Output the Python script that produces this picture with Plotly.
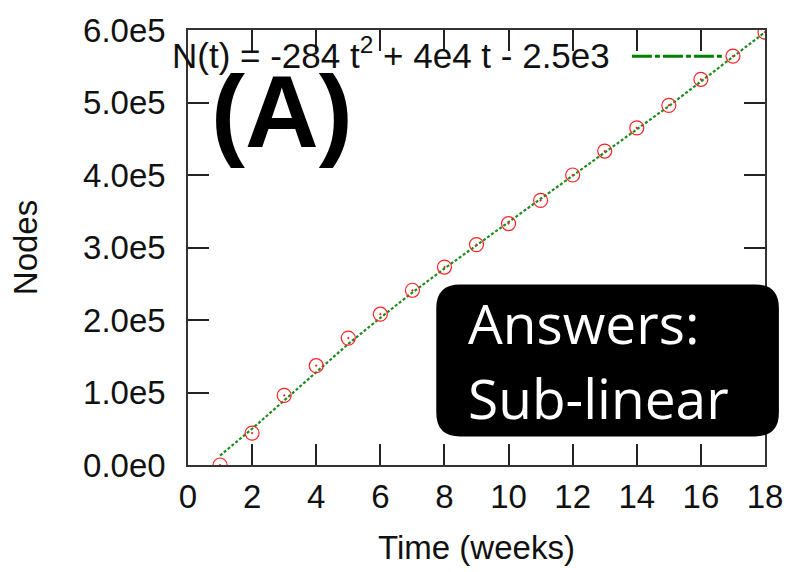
import plotly.graph_objects as go

# ---- data ----
weeks = [1, 2, 3, 4, 5, 6, 7, 8, 9, 10, 11, 12, 13, 14, 15, 16, 17, 18]
nodes = [0, 44000, 96000, 137000, 175000, 208000, 241000, 273000, 304000,
         333000, 365000, 400000, 433000, 465000, 496000, 532000, 564000, 597000]
fit_nodes = [13000, 50000, 89000, 128000, 167000, 203000, 238000, 271000, 303000,
             335000, 367000, 399000, 431000, 463000, 495000, 529000, 563000, 597000]
fit_label = "N(t) = -284 t<sup>2</sup> + 4e4 t - 2.5e3"
x_ticks = [0, 2, 4, 6, 8, 10, 12, 14, 16, 18]
y_ticks = [0, 100000, 200000, 300000, 400000, 500000, 600000]
y_ticktext = ["0.0e0", "1.0e5", "2.0e5", "3.0e5", "4.0e5", "5.0e5", "6.0e5"]
panel_label = "(A)"
answer_lines = ["Answers:", "Sub-linear"]

W, H = 795, 572
L, R, T, B = 188, 26, 25, 106
PW, PH = W - L - R, H - T - B
FONT = "Liberation Sans, Arial"
FS = 33


def px(xp):
    return (xp - L) / PW


def py(yp):
    return (H - B - yp) / PH


fig = go.Figure()
fig.add_trace(go.Scatter(
    x=weeks, y=fit_nodes, mode="lines",
    line=dict(color="#1f8a1f", width=2.2, dash="3px,2px"),
    showlegend=False, hoverinfo="skip"))
fig.add_trace(go.Scatter(
    x=weeks, y=nodes, mode="markers",
    marker=dict(symbol="circle-open-dot", size=14, color="#ff2020",
                line=dict(width=1.2, color="#ff2020")),
    showlegend=False))

axis_common = dict(
    showgrid=False, zeroline=False, showline=True, mirror="allticks",
    linecolor="#333333", linewidth=1.5, ticks="inside", ticklen=21,
    tickwidth=1.5, tickcolor="#222222",
    tickfont=dict(family=FONT, size=FS, color="#111111"),
)
fig.update_xaxes(range=[0, 18], tickmode="array", tickvals=x_ticks,
                 title=dict(text="Time (weeks)",
                            font=dict(family=FONT, size=FS, color="#111111"),
                            standoff=22),
                 ticklabelstandoff=2, **axis_common)
fig.update_yaxes(range=[0, 600000], tickmode="array", tickvals=y_ticks,
                 ticktext=y_ticktext,
                 title=dict(text="Nodes",
                            font=dict(family=FONT, size=FS, color="#111111"),
                            standoff=36),
                 ticklabelstandoff=14, **axis_common)

# legend (manual, as in original key)
fig.add_annotation(xref="paper", yref="paper", x=px(615), y=py(48),
                   xanchor="right", yanchor="middle", showarrow=False,
                   text=fit_label,
                   font=dict(family=FONT, size=35, color="#111111"))
fig.add_shape(type="line", xref="paper", yref="paper",
              x0=px(635), x1=px(728), y0=py(51.5), y1=py(51.5),
              line=dict(color="green", width=3, dash="20px,3px,5px,3px"))

# panel label
fig.add_annotation(xref="paper", yref="paper", x=px(283), y=py(108),
                   xanchor="center", yanchor="middle", showarrow=False,
                   text="<b>" + panel_label + "</b>",
                   font=dict(family=FONT, size=102, color="black"))

# rounded black box
x0, x1, y0, y1, r = 438, 783, 283, 437, 24
rx, ry = r / PW, r / PH
X0, X1, Y0, Y1 = px(x0), px(x1), py(y1), py(y0)
path = (f"M {X0+rx},{Y0} L {X1-rx},{Y0} Q {X1},{Y0} {X1},{Y0+ry} "
        f"L {X1},{Y1-ry} Q {X1},{Y1} {X1-rx},{Y1} "
        f"L {X0+rx},{Y1} Q {X0},{Y1} {X0},{Y1-ry} "
        f"L {X0},{Y0+ry} Q {X0},{Y0} {X0+rx},{Y0} Z")
fig.add_shape(type="path", xref="paper", yref="paper", path=path,
              fillcolor="black", line=dict(color="black", width=0), layer="above")

for line_text, base in zip(answer_lines, [342, 418]):
    fig.add_annotation(xref="paper", yref="paper", x=px(468), y=py(base - 20),
                       xanchor="left", yanchor="middle", showarrow=False,
                       text=line_text,
                       font=dict(family="Open Sans", size=55, color="white"))

fig.update_layout(width=W, height=H, margin=dict(l=L, r=R, t=T, b=B),
                  paper_bgcolor="white", plot_bgcolor="white")
fig.write_html("out.html", config={"displayModeBar": False},
               post_script="document.body.style.margin='0';document.body.style.padding='0';")
